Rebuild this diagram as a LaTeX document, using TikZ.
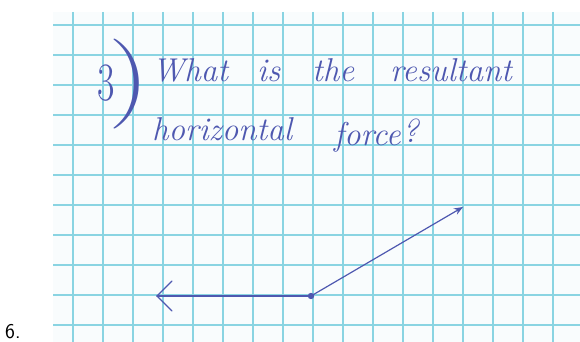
\documentclass[tikz,border=0pt]{standalone}
\usepackage{fontspec}
\usetikzlibrary{arrows.meta}
\definecolor{ink}{RGB}{78,88,176}
\definecolor{gridc}{RGB}{138,212,226}
\definecolor{paper}{RGB}{249,252,253}
\tikzset{
  hand/.style={text=ink, inner sep=0pt, anchor=base west, font=\fontsize{33}{33}\selectfont\itshape},
  gridline/.style={draw=gridc, line width=1.2pt},
  vec/.style={draw=ink, line width=1.2pt, line cap=round}
}
\begin{document}
\begin{tikzpicture}[x=1pt,y=-1pt]
\useasboundingbox (0,0) rectangle (580,342);
\fill[white] (0,0) rectangle (580,342);
\fill[paper] (53,12) rectangle (580,342);
% grid
\foreach \k in {0,...,16} {
  \draw[gridline] ({73+30*\k},12) -- ({73+30*\k},342);
}
\foreach \k in {0,...,10} {
  \draw[gridline] (53,{25+30*\k}) -- (580,{25+30*\k});
}
% handwritten text
\node[text=ink, inner sep=0pt, anchor=base west, font=\fontsize{54}{54}\selectfont, xscale=0.7] (n3) at (97,100) {3};
\node[text=ink, inner sep=0pt, font=\fontsize{90}{90}\selectfont, xscale=1.3] (paren) at (129,84) {)};
\node[hand] (w1) at (152,82) {What};
\node[hand] (w2) at (257,82) {is};
\node[hand] (w3) at (312,82) {the};
\node[hand] (w4) at (390,82) {resultant};
\node[hand] (w5) at (152,140) {horizontal};
\node[hand] (w6) at (334,145) {force};
\node[hand] (w7) at (402,142) {?};
% vectors
\coordinate (O) at (311,296);
\coordinate (L) at (157,296);
\coordinate (R) at (463,207);
\draw[vec] (O) -- (L);
\draw[vec] (172,281) -- (L) -- (172,311);
\draw[vec, -{Stealth[length=9pt,width=7pt]}] (O) -- (R);
\fill[ink] (O) circle (3.2pt);
% label
\node[inner sep=0pt, anchor=base west, font=\fontsize{21}{21}\selectfont\sffamily] (lab) at (5,338) {6.};
\end{tikzpicture}
\end{document}
